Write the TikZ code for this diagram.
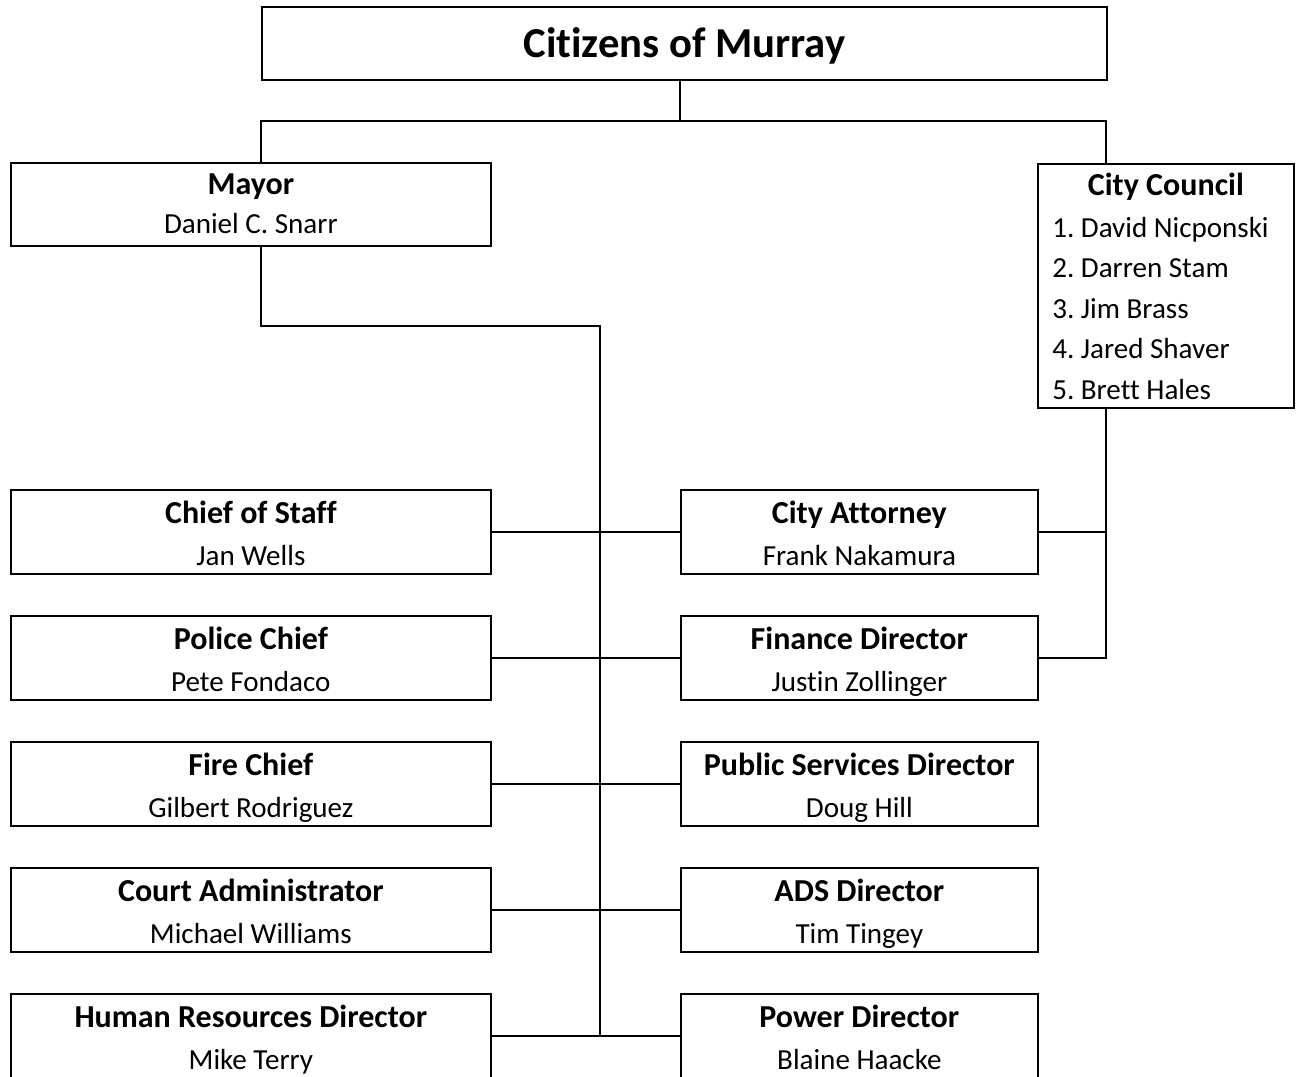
\documentclass[tikz,border=0pt]{standalone}
\usepackage{fontspec}
\setmainfont{Carlito}[Ligatures=NoCommon]
\begin{document}
\frenchspacing
\begin{tikzpicture}[x=0.75pt,y=-0.75pt,
  box/.style={draw=black,line width=1.3pt,fill=none,inner sep=0pt,anchor=north west},
  link/.style={draw=black,line width=1.1pt},
  ttl/.style={inner sep=0pt,anchor=base,font=\fontsize{24}{28}\selectfont\bfseries},
  nm/.style={inner sep=0pt,anchor=base,font=\fontsize{21.8}{26}\selectfont},
  bigttl/.style={inner sep=0pt,anchor=base,font=\fontsize{32}{38}\selectfont\bfseries},
  item/.style={inner sep=0pt,anchor=base west,font=\fontsize{21.8}{26}\selectfont}]
\newcommand\leftbox[4]{%
  \node[box,minimum width=360pt,minimum height=63pt] (#1) at (10,#2) {};
  \node[ttl] (#1-t) at ([shift={(0,34)}]#1.north) {#3};
  \node[nm] (#1-n) at ([shift={(0,76)}]#1.north) {#4};}
\newcommand\rightbox[4]{%
  \node[box,minimum width=267.75pt,minimum height=63pt] (#1) at (680,#2) {};
  \node[ttl] (#1-t) at ([shift={(0,34)}]#1.north) {#3};
  \node[nm] (#1-n) at ([shift={(0,76)}]#1.north) {#4};}
\fill[white] (0,0) rectangle (1296,1076);
\useasboundingbox (0,0) rectangle (1296,1076);
\clip (0,0) rectangle (1296,1076);
% top
\node[box,minimum width=633.75pt,minimum height=54.75pt] (citizens) at (261,6) {};
\node[bigttl] (citizens-t) at ([shift={(0,51)}]citizens.north) {Citizens of Murray};
% mayor
\node[box,minimum width=360pt,minimum height=62.25pt] (mayor) at (10,162) {};
\node[ttl] (mayor-t) at ([shift={(0,32)}]mayor.north) {Mayor};
\node[nm] (mayor-n) at ([shift={(0,71)}]mayor.north) {Daniel C. Snarr};
% council
\node[box,minimum width=192pt,minimum height=183pt] (council) at (1037,163) {};
\node[ttl] (council-t) at ([shift={(0,32)}]council.north) {City Council};
\node[item] (c1) at (1052,237) {1. David Nicponski};
\node[item] (c2) at (1052,277.5) {2. Darren Stam};
\node[item] (c3) at (1052,318) {3. Jim Brass};
\node[item] (c4) at (1052,358.5) {4. Jared Shaver};
\node[item] (c5) at (1052,399) {5. Brett Hales};
% rows
\leftbox{cos}{489}{Chief of Staff}{Jan Wells}
\leftbox{police}{615}{Police Chief}{Pete Fondaco}
\leftbox{fire}{741}{Fire Chief}{Gilbert Rodriguez}
\leftbox{court}{867}{Court Administrator}{Michael Williams}
\leftbox{hr}{993}{Human Resources Director}{Mike Terry}
\rightbox{att}{489}{City Attorney}{Frank Nakamura}
\rightbox{fin}{615}{Finance Director}{Justin Zollinger}
\rightbox{pub}{741}{Public Services Director}{Doug Hill}
\rightbox{ads}{867}{ADS Director}{Tim Tingey}
\rightbox{power}{993}{Power Director}{Blaine Haacke}
% connectors
\coordinate (bus) at (680,121);
\coordinate (busL) at (261,121);
\coordinate (busR) at (1106,121);
\coordinate (spine) at (600,326);
\draw[link] (bus |- citizens.south) -- (bus);
\draw[link] (mayor.north -| busL) |- (busR) -- (council.north -| busR);
\draw[link] (mayor.south -| busL) |- (spine) -- (spine |- hr.east);
\draw[link] (cos.east) -- (att.west);
\draw[link] (police.east) -- (fin.west);
\draw[link] (fire.east) -- (pub.west);
\draw[link] (court.east) -- (ads.west);
\draw[link] (hr.east) -- (power.west);
\draw[link] (council.south -| busR) |- (fin.east);
\draw[link] (att.east) -- (att.east -| busR);
\end{tikzpicture}
\end{document}
